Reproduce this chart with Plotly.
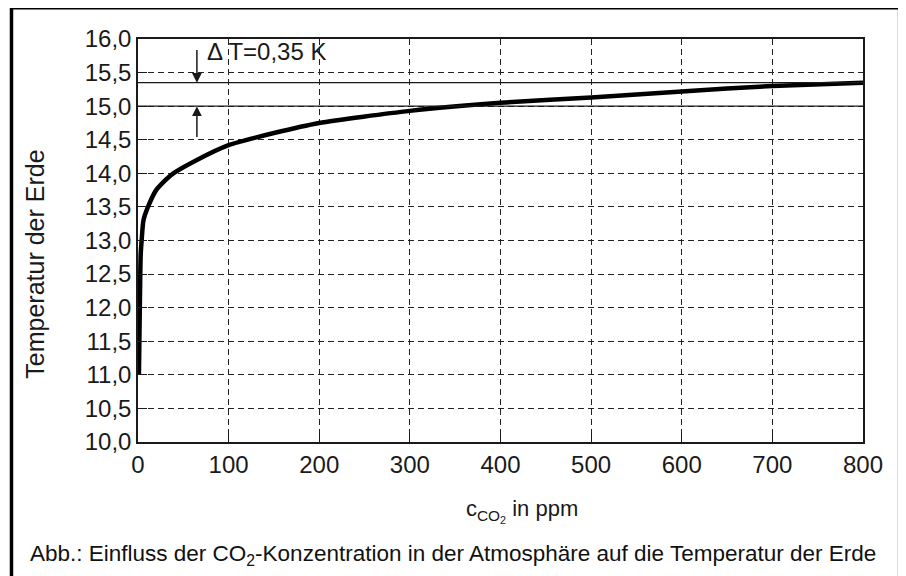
import plotly.graph_objects as go

# data
co2_ppm = [1, 1.5, 2, 2.5, 3, 4, 6, 11, 20, 28, 39, 65, 100, 150, 200, 300, 400, 500, 600, 700, 800]
temp_earth = [11.0, 11.5, 12.0, 12.5, 12.8, 13.0, 13.3, 13.5, 13.75, 13.87, 14.0, 14.2, 14.42,
              14.6, 14.75, 14.93, 15.05, 15.13, 15.22, 15.3, 15.35]

x_ticks = [0, 100, 200, 300, 400, 500, 600, 700, 800]
x_tick_labels = [str(v) for v in x_ticks]
y_ticks = [10.0 + 0.5 * i for i in range(13)]
y_tick_labels = [f"{v:.1f}".replace(".", ",") for v in y_ticks]

t_low, t_high = 15.0, 15.35
arrow_x = 65
delta_label = "Δ T=0,35 K"

FONT = "Liberation Sans, Arial, sans-serif"
INK = "#1a1a1a"

fig = go.Figure()
fig.add_trace(go.Scatter(
    x=co2_ppm, y=temp_earth, mode="lines",
    line=dict(color="#000000", width=4.5, shape="spline", smoothing=0.6),
    showlegend=False, hoverinfo="skip",
))

# reference lines for delta T
for yv in (t_low, t_high):
    fig.add_shape(type="line", xref="paper", yref="y", x0=0, x1=1, y0=yv, y1=yv,
                  line=dict(color=INK, width=1.3), layer="above")

# arrows
fig.add_annotation(x=arrow_x, y=t_high, ax=arrow_x, ay=15.86, xref="x", yref="y",
                   axref="x", ayref="y", showarrow=True, arrowhead=2, arrowsize=1.3,
                   arrowwidth=1.5, arrowcolor=INK, text="")
fig.add_annotation(x=arrow_x, y=t_low, ax=arrow_x, ay=14.52, xref="x", yref="y",
                   axref="x", ayref="y", showarrow=True, arrowhead=2, arrowsize=1.3,
                   arrowwidth=1.5, arrowcolor=INK, text="")
fig.add_annotation(x=74, y=15.82, xref="x", yref="y", text=delta_label, showarrow=False,
                   xanchor="left", yanchor="middle", font=dict(family=FONT, size=24, color=INK))

# axis titles
fig.add_annotation(x=0.529, y=-0.17, xref="paper", yref="paper",
                   text="c<sub>CO<sub>2</sub></sub> in ppm", showarrow=False,
                   xanchor="center", yanchor="middle", font=dict(family=FONT, size=22, color=INK))
fig.add_annotation(x=-0.142, y=0.44, xref="paper", yref="paper", textangle=-90,
                   text="Temperatur der Erde", showarrow=False,
                   xanchor="center", yanchor="middle", font=dict(family=FONT, size=25, color=INK))

# caption
fig.add_annotation(x=-0.152, y=-0.280, xref="paper", yref="paper",
                   text="Abb.: Einfluss der CO<sub>2</sub>-Konzentration in der Atmosphäre auf die Temperatur der Erde",
                   showarrow=False, xanchor="left", yanchor="middle",
                   font=dict(family=FONT, size=22.5, color="#111111"))

# outer frame
fig.add_shape(type="rect", xref="paper", yref="paper", x0=-0.1745, x1=1.0505, y0=-0.36, y1=1.0775,
              line=dict(color="#000000", width=3.5), fillcolor="rgba(0,0,0,0)")

grid = dict(showgrid=True, gridcolor="#222222", gridwidth=1.1, griddash="6px,4px")

fig.update_xaxes(range=[0, 800], tickvals=x_ticks, ticktext=x_tick_labels,
                 ticks="inside", ticklen=9, tickcolor=INK, tickwidth=1.2,
                 showline=True, linecolor=INK, linewidth=1.5, mirror=True,
                 zeroline=False, tickfont=dict(family=FONT, size=24, color=INK), **grid)
fig.update_yaxes(range=[10, 16], tickvals=y_ticks, ticktext=y_tick_labels,
                 ticks="inside", ticklen=9, tickcolor=INK, tickwidth=1.2,
                 showline=True, linecolor=INK, linewidth=1.5, mirror=True,
                 zeroline=False, tickfont=dict(family=FONT, size=24, color=INK), **grid)

# the page body adds an 8px offset, so margins are shifted to compensate
fig.update_layout(width=906, height=576, margin=dict(l=130, r=51, t=31, b=142),
                  plot_bgcolor="white", paper_bgcolor="white", showlegend=False)

fig.write_html("out.html")
